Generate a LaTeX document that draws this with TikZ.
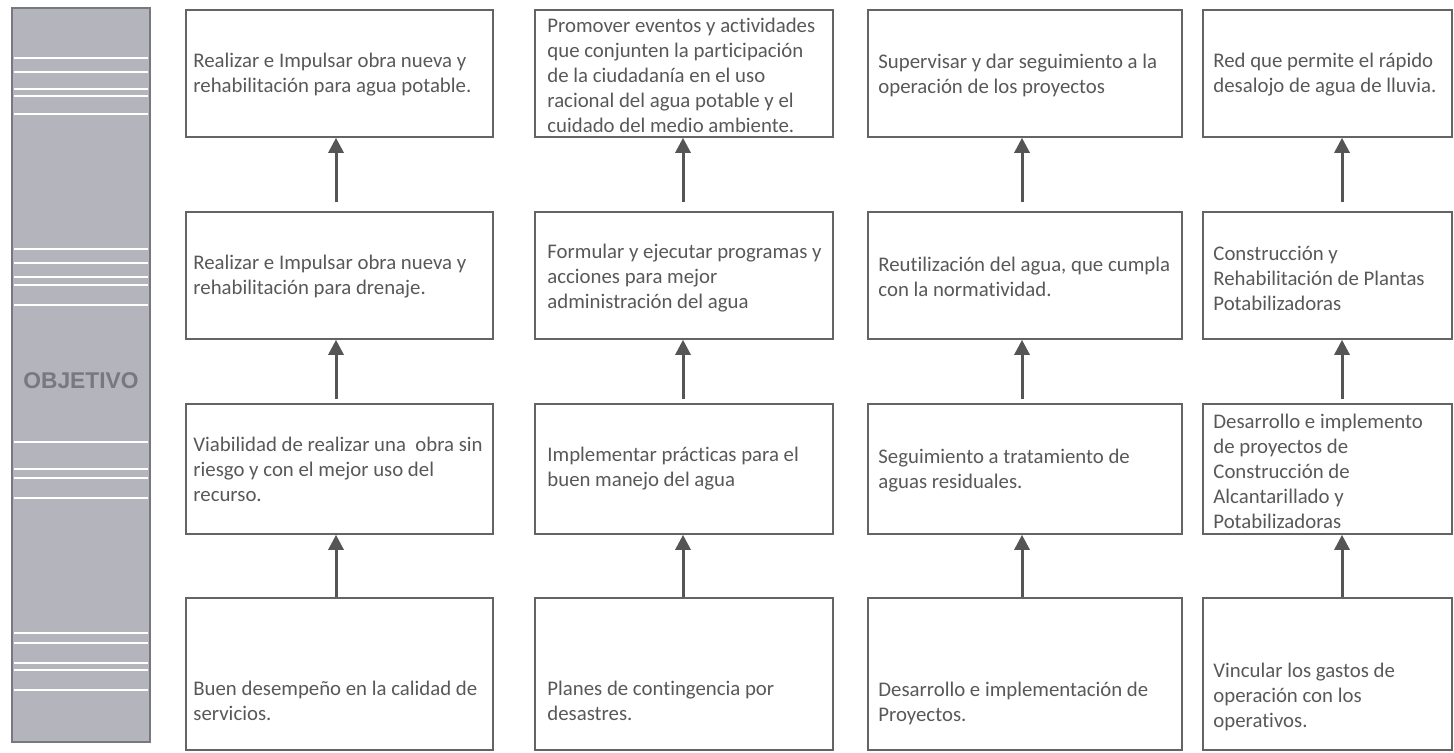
\documentclass[tikz,border=0pt]{standalone}
\usepackage{fontspec}
\setmainfont{Carlito}[Ligatures=NoCommon]
\newfontfamily\objfont{Liberation Sans}
\usetikzlibrary{arrows.meta,fit}
\definecolor{barfill}{RGB}{180,180,188}
\definecolor{barline}{RGB}{120,120,128}
\definecolor{objtext}{RGB}{120,120,128}
\definecolor{boxline}{RGB}{100,100,100}
\definecolor{txtgray}{RGB}{88,88,88}
\definecolor{arrgray}{RGB}{85,85,85}

\begin{document}
\begin{tikzpicture}[x=0.5pt,y=-0.5pt,
    cuadro/.style={draw=boxline,line width=0.8pt,inner sep=0pt},
    texto/.style={align=left,inner sep=0pt,text=txtgray,font=\fontsize{10.4}{12.5}\selectfont},
    flecha/.style={draw=arrgray,line width=1.5pt,-{Triangle[width=7.5pt,length=7.5pt]}}]
    \useasboundingbox (0,0) rectangle (1454,752);
    %Barra
    \draw [fill=barfill,draw=barline,line width=0.8pt] (12,8) rectangle (150,742);
    \foreach \y in {58,72,89,96,114,249,263,277,285,305,442,469,478,498,633,643,663,670,690}
        \draw [white,line width=1pt] (14,\y) -- (148,\y);
    \node [font=\objfont\bfseries\fontsize{11.4}{13}\selectfont,text=objtext] (obj) at (81,381) {OBJETIVO};

    %Cuadros
    \node [cuadro,fit={(186,10) (493,137)}] (b11) {};
    \node [cuadro,fit={(535,10) (833,137)}] (b12) {};
    \node [cuadro,fit={(868,10) (1182,137)}] (b13) {};
    \node [cuadro,fit={(1203,10) (1452,137)}] (b14) {};
    \node [cuadro,fit={(186,212) (493,339)}] (b21) {};
    \node [cuadro,fit={(535,212) (833,339)}] (b22) {};
    \node [cuadro,fit={(868,212) (1182,339)}] (b23) {};
    \node [cuadro,fit={(1203,212) (1452,339)}] (b24) {};
    \node [cuadro,fit={(186,404) (493,534)}] (b31) {};
    \node [cuadro,fit={(535,404) (833,534)}] (b32) {};
    \node [cuadro,fit={(868,404) (1182,534)}] (b33) {};
    \node [cuadro,fit={(1203,404) (1452,534)}] (b34) {};
    \node [cuadro,fit={(186,598) (493,750)}] (b41) {};
    \node [cuadro,fit={(535,598) (833,750)}] (b42) {};
    \node [cuadro,fit={(868,598) (1182,750)}] (b43) {};
    \node [cuadro,fit={(1203,598) (1452,750)}] (b44) {};

    %Textos
    \node [texto,anchor=west] (t11) at (193,75) {Realizar e Impulsar obra nueva y\\rehabilitación para agua potable.};
    \node [texto,anchor=west] (t12) at (547,75) {Promover eventos y actividades\\que conjunten la participación\\de la ciudadanía en el uso\\racional del agua potable y el\\cuidado del medio ambiente.};
    \node [texto,anchor=west] (t13) at (878,75) {Supervisar y dar seguimiento a la\\operación de los proyectos};
    \node [texto,anchor=west] (t14) at (1213,75) {Red que permite el rápido\\desalojo de agua de lluvia.};
    \node [texto,anchor=west] (t21) at (193,277) {Realizar e Impulsar obra nueva y\\rehabilitación para drenaje.};
    \node [texto,anchor=west] (t22) at (547,278) {Formular y ejecutar programas y\\acciones para mejor\\administración del agua};
    \node [texto,anchor=west] (t23) at (878,277) {Reutilización del agua, que cumpla\\con la normatividad.};
    \node [texto,anchor=west] (t24) at (1213,278) {Construcción y\\Rehabilitación de Plantas\\Potabilizadoras};
    \node [texto,anchor=west] (t31) at (193,469) {Viabilidad de realizar una\ \ obra sin\\riesgo y con el mejor uso del\\recurso.};
    \node [texto,anchor=west] (t32) at (547,469) {Implementar prácticas para el\\buen manejo del agua};
    \node [texto,anchor=west] (t33) at (878,471) {Seguimiento a tratamiento de\\aguas residuales.};
    \node [texto,anchor=west] (t34) at (1213,471) {Desarrollo e implemento\\de proyectos de\\Construcción de\\Alcantarillado y\\Potabilizadoras};
    \node [texto,anchor=west] (t41) at (193,701) {Buen desempeño en la calidad de\\servicios.};
    \node [texto,anchor=west] (t42) at (547,701) {Planes de contingencia por\\desastres.};
    \node [texto,anchor=west] (t43) at (878,703) {Desarrollo e implementación de\\Proyectos.};
    \node [texto,anchor=west] (t44) at (1213,697) {Vincular los gastos de\\operación con los\\operativos.};

    %Flechas
    \coordinate (x1) at (336,0);
    \coordinate (x2) at (683,0);
    \coordinate (x3) at (1022,0);
    \coordinate (x4) at (1342,0);
    \draw [flecha,shorten <=4.5pt] (b21.north -| x1) -- (b11.south -| x1);
    \draw [flecha,shorten <=4.5pt] (b22.north -| x2) -- (b12.south -| x2);
    \draw [flecha,shorten <=4.5pt] (b23.north -| x3) -- (b13.south -| x3);
    \draw [flecha,shorten <=4.5pt] (b24.north -| x4) -- (b14.south -| x4);
    \draw [flecha,shorten <=2pt] (b31.north -| x1) -- (b21.south -| x1);
    \draw [flecha,shorten <=2pt] (b32.north -| x2) -- (b22.south -| x2);
    \draw [flecha,shorten <=2pt] (b33.north -| x3) -- (b23.south -| x3);
    \draw [flecha,shorten <=2pt] (b34.north -| x4) -- (b24.south -| x4);
    \draw [flecha] (b41.north -| x1) -- (b31.south -| x1);
    \draw [flecha] (b42.north -| x2) -- (b32.south -| x2);
    \draw [flecha] (b43.north -| x3) -- (b33.south -| x3);
    \draw [flecha] (b44.north -| x4) -- (b34.south -| x4);
\end{tikzpicture}
\end{document}
